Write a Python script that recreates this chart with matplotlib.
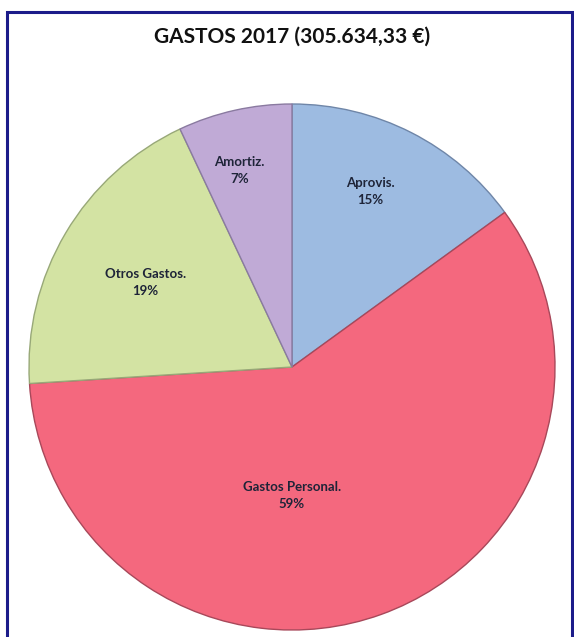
import math

import matplotlib
matplotlib.use("Agg")
import matplotlib.pyplot as plt
from matplotlib.patches import Rectangle

# data
title = "GASTOS 2017 (305.634,33 €)"
categories = ["Aprovis.", "Gastos Personal.", "Otros Gastos.", "Amortiz."]
shares = [15, 59, 19, 7]

colors = ["#9dbbe1", "#f4687e", "#d3e3a3", "#c0aad6"]
edges = ["#6f86a8", "#a8485a", "#98a878", "#8a7aa0"]
# label placement (degrees, fraction of radius), like Excel's best fit
label_pos = [(66, 0.73), (-90, 0.49), (150, 0.645), (105, 0.775)]

W, H = 574, 637
cx, cy, R = 292, H - 367, 263

fig = plt.figure(figsize=(W / 100, H / 100), dpi=100)
ax = fig.add_axes([0, 0, 1, 1])

# chart frame, open at the bottom (cropped)
ax.add_patch(Rectangle((7, -10), 565, H - 12 + 10, fill=False,
                       edgecolor="#1c1c8a", lw=2.2))

wedges, _ = ax.pie(shares, colors=colors, startangle=90, counterclock=False,
                   center=(cx, cy), radius=R, frame=True,
                   wedgeprops=dict(linewidth=1.0))
for w, ec in zip(wedges, edges):
    w.set_edgecolor(ec)
ax.set_xlim(0, W)
ax.set_ylim(0, H)
ax.set_aspect("equal")
ax.axis("off")

for name, pct, (ang, r) in zip(categories, shares, label_pos):
    a = math.radians(ang)
    ax.text(cx + r * R * math.cos(a), cy + r * R * math.sin(a),
            f"{name}\n{pct}%", ha="center", va="center",
            fontsize=9.5, fontweight="bold", family="Lato",
            color="#1e2438", linespacing=1.5)

ax.text(292, H - 37, title, ha="center", va="center", fontsize=15,
        fontweight="bold", family="Lato", color="#111111")

fig.savefig("out.png", dpi=100)
